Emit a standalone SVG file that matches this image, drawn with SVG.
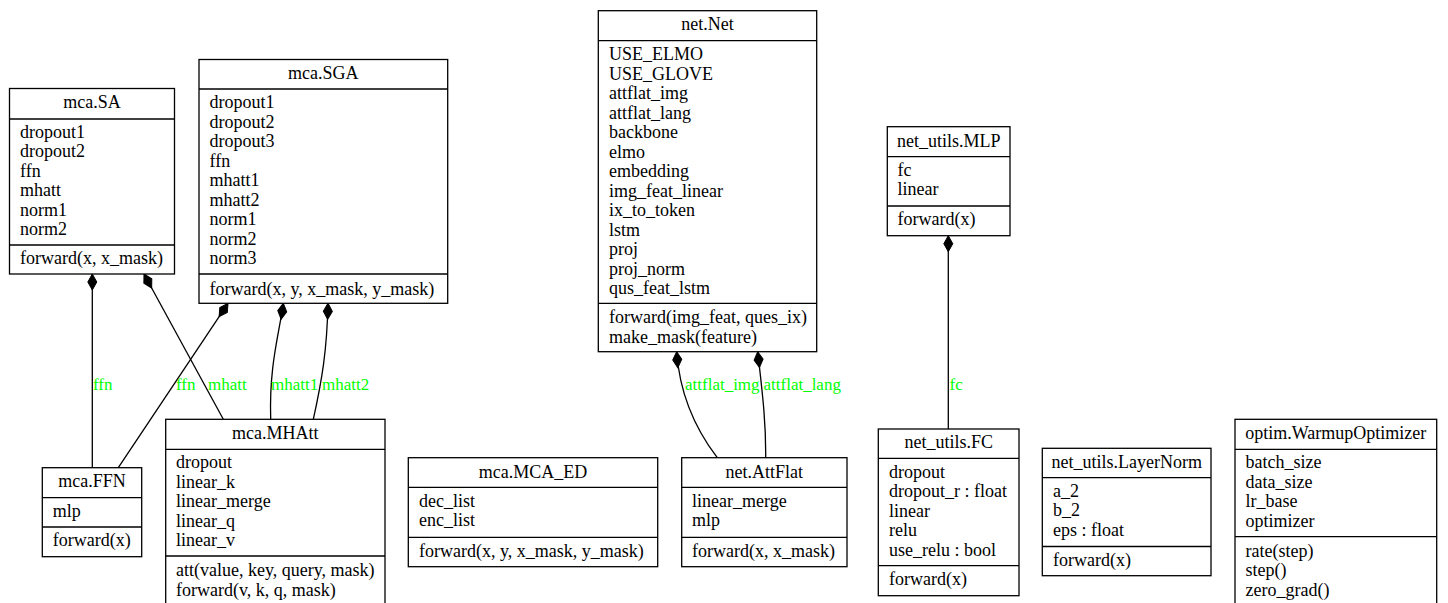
<svg xmlns="http://www.w3.org/2000/svg" width="1448" height="603" viewBox="0 0 1448 603">
  <style>
    .box { fill: #ffffff; stroke: #000000; stroke-width: 1.3; }
    .sep { stroke: #000000; stroke-width: 1.3; }
    text { font-family: "Liberation Serif", "Times New Roman", serif; font-size: 18px; fill: #000000; }
    .title { text-anchor: middle; }
    .edge { fill: none; stroke: #000000; stroke-width: 1.3; marker-start: url(#diamond); }
    .elabel { font-size: 17px; fill: #00ff00; }
  </style>
  <defs>
    <!-- filled composition diamond, placed at the owning class -->
    <marker id="diamond" markerUnits="userSpaceOnUse" markerWidth="20" markerHeight="12" refX="0" refY="6" orient="auto" overflow="visible">
      <path d="M0,6 L8,1.5 L16,6 L8,10.5 Z" fill="#000000" stroke="#000000" stroke-width="1"/>
    </marker>
  </defs>
  <rect width="1448" height="603" fill="#ffffff"/>

  <!-- composition connectors -->
  <g id="connectors">
    <path class="edge" d="M92.3,274 L92.3,467.7"/>
    <text class="elabel" x="93" y="390">ffn</text>
    <path class="edge" d="M144,274 L223.3,419.3"/>
    <text class="elabel" x="208" y="390">mhatt</text>
    <path class="edge" d="M228,303.3 L118.3,467.7"/>
    <text class="elabel" x="176" y="390">ffn</text>
    <path class="edge" d="M283.3,303.3 C279,335 269,365 270.7,419.3"/>
    <text class="elabel" x="271" y="390">mhatt1</text>
    <path class="edge" d="M328,303.3 C327,350 322,380 313.3,419.3"/>
    <text class="elabel" x="322" y="390">mhatt2</text>
    <path class="edge" d="M676.7,351.7 C680,400 700,435 717.3,457.7"/>
    <text class="elabel" x="685" y="390">attflat_img</text>
    <path class="edge" d="M757.7,351.7 C762,390 766,420 765.7,457.7"/>
    <text class="elabel" x="763.5" y="390">attflat_lang</text>
    <path class="edge" d="M948.3,235.7 L948.3,429"/>
    <text class="elabel" x="949.5" y="390">fc</text>
  </g>

  <g id="mca.SA">
    <rect class="box" x="9.5" y="88.5" width="165" height="185.5"/>
    <line class="sep" x1="9.5" y1="119" x2="174.5" y2="119"/>
    <line class="sep" x1="9.5" y1="245" x2="174.5" y2="245"/>
    <text class="title" x="92" y="108">mca.SA</text>
    <text x="20" y="137.7">dropout1</text>
    <text x="20" y="157.2">dropout2</text>
    <text x="20" y="176.7">ffn</text>
    <text x="20" y="196.2">mhatt</text>
    <text x="20" y="215.7">norm1</text>
    <text x="20" y="235.2">norm2</text>
    <text x="20" y="263.5">forward(x, x_mask)</text>
  </g>

  <g id="mca.SGA">
    <rect class="box" x="199" y="59.5" width="248.7" height="243.8"/>
    <line class="sep" x1="199" y1="89" x2="447.7" y2="89"/>
    <line class="sep" x1="199" y1="274" x2="447.7" y2="274"/>
    <text class="title" x="323.3" y="78.5">mca.SGA</text>
    <text x="209.5" y="108.3">dropout1</text>
    <text x="209.5" y="127.8">dropout2</text>
    <text x="209.5" y="147.3">dropout3</text>
    <text x="209.5" y="166.8">ffn</text>
    <text x="209.5" y="186.3">mhatt1</text>
    <text x="209.5" y="205.8">mhatt2</text>
    <text x="209.5" y="225.3">norm1</text>
    <text x="209.5" y="244.8">norm2</text>
    <text x="209.5" y="264.3">norm3</text>
    <text x="209.5" y="295">forward(x, y, x_mask, y_mask)</text>
  </g>

  <g id="mca.MHAtt">
    <rect class="box" x="165.7" y="419.3" width="219.3" height="195"/>
    <line class="sep" x1="165.7" y1="449.3" x2="385" y2="449.3"/>
    <line class="sep" x1="165.7" y1="556" x2="385" y2="556"/>
    <text class="title" x="275.3" y="439">mca.MHAtt</text>
    <text x="176" y="468.3">dropout</text>
    <text x="176" y="487.8">linear_k</text>
    <text x="176" y="507.3">linear_merge</text>
    <text x="176" y="526.8">linear_q</text>
    <text x="176" y="546.3">linear_v</text>
    <text x="176" y="576.3">att(value, key, query, mask)</text>
    <text x="176" y="595.8">forward(v, k, q, mask)</text>
  </g>

  <g id="mca.FFN">
    <rect class="box" x="42.3" y="467.7" width="99.4" height="89"/>
    <line class="sep" x1="42.3" y1="497.7" x2="141.7" y2="497.7"/>
    <line class="sep" x1="42.3" y1="527" x2="141.7" y2="527"/>
    <text class="title" x="92" y="487.3">mca.FFN</text>
    <text x="52.7" y="516.7">mlp</text>
    <text x="52.7" y="546.3">forward(x)</text>
  </g>

  <g id="mca.MCA_ED">
    <rect class="box" x="408.3" y="457.7" width="249.4" height="109"/>
    <line class="sep" x1="408.3" y1="487.3" x2="657.7" y2="487.3"/>
    <line class="sep" x1="408.3" y1="537.3" x2="657.7" y2="537.3"/>
    <text class="title" x="533" y="477.5">mca.MCA_ED</text>
    <text x="419" y="506.7">dec_list</text>
    <text x="419" y="526.2">enc_list</text>
    <text x="419" y="556.5">forward(x, y, x_mask, y_mask)</text>
  </g>

  <g id="net.AttFlat">
    <rect class="box" x="681.7" y="457.7" width="165.3" height="109"/>
    <line class="sep" x1="681.7" y1="487.3" x2="847" y2="487.3"/>
    <line class="sep" x1="681.7" y1="537.3" x2="847" y2="537.3"/>
    <text class="title" x="764.3" y="477.5">net.AttFlat</text>
    <text x="692" y="506.7">linear_merge</text>
    <text x="692" y="526.2">mlp</text>
    <text x="692" y="556.5">forward(x, x_mask)</text>
  </g>

  <g id="net.Net">
    <rect class="box" x="598.3" y="10.7" width="218.4" height="341"/>
    <line class="sep" x1="598.3" y1="40.7" x2="816.7" y2="40.7"/>
    <line class="sep" x1="598.3" y1="303.3" x2="816.7" y2="303.3"/>
    <text class="title" x="707.5" y="30">net.Net</text>
    <text x="609" y="60">USE_ELMO</text>
    <text x="609" y="79.5">USE_GLOVE</text>
    <text x="609" y="99">attflat_img</text>
    <text x="609" y="118.5">attflat_lang</text>
    <text x="609" y="138">backbone</text>
    <text x="609" y="157.5">elmo</text>
    <text x="609" y="177">embedding</text>
    <text x="609" y="196.5">img_feat_linear</text>
    <text x="609" y="216">ix_to_token</text>
    <text x="609" y="235.5">lstm</text>
    <text x="609" y="255">proj</text>
    <text x="609" y="274.5">proj_norm</text>
    <text x="609" y="294">qus_feat_lstm</text>
    <text x="609" y="323.3">forward(img_feat, ques_ix)</text>
    <text x="609" y="342.8">make_mask(feature)</text>
  </g>

  <g id="net_utils.MLP">
    <rect class="box" x="887.3" y="126.7" width="122.7" height="109"/>
    <line class="sep" x1="887.3" y1="156.7" x2="1010" y2="156.7"/>
    <line class="sep" x1="887.3" y1="206" x2="1010" y2="206"/>
    <text class="title" x="948.7" y="146.5">net_utils.MLP</text>
    <text x="897.5" y="175.7">fc</text>
    <text x="897.5" y="195.2">linear</text>
    <text x="897.5" y="225">forward(x)</text>
  </g>

  <g id="net_utils.FC">
    <rect class="box" x="878.3" y="429" width="140.7" height="166.7"/>
    <line class="sep" x1="878.3" y1="458.3" x2="1019" y2="458.3"/>
    <line class="sep" x1="878.3" y1="565.7" x2="1019" y2="565.7"/>
    <text class="title" x="948.7" y="448.3">net_utils.FC</text>
    <text x="889" y="477.7">dropout</text>
    <text x="889" y="497.2">dropout_r : float</text>
    <text x="889" y="516.7">linear</text>
    <text x="889" y="536.2">relu</text>
    <text x="889" y="555.7">use_relu : bool</text>
    <text x="889" y="585">forward(x)</text>
  </g>

  <g id="net_utils.LayerNorm">
    <rect class="box" x="1042.3" y="448.3" width="168.7" height="127.4"/>
    <line class="sep" x1="1042.3" y1="477.7" x2="1211" y2="477.7"/>
    <line class="sep" x1="1042.3" y1="546.5" x2="1211" y2="546.5"/>
    <text class="title" x="1126.7" y="467.5">net_utils.LayerNorm</text>
    <text x="1053" y="496.7">a_2</text>
    <text x="1053" y="516.2">b_2</text>
    <text x="1053" y="535.7">eps : float</text>
    <text x="1053" y="566">forward(x)</text>
  </g>

  <g id="optim.WarmupOptimizer">
    <rect class="box" x="1235" y="419.3" width="201.7" height="195"/>
    <line class="sep" x1="1235" y1="449.3" x2="1436.7" y2="449.3"/>
    <line class="sep" x1="1235" y1="536.7" x2="1436.7" y2="536.7"/>
    <text class="title" x="1335.8" y="439">optim.WarmupOptimizer</text>
    <text x="1245.5" y="468.3">batch_size</text>
    <text x="1245.5" y="487.8">data_size</text>
    <text x="1245.5" y="507.3">lr_base</text>
    <text x="1245.5" y="526.8">optimizer</text>
    <text x="1245.5" y="556.5">rate(step)</text>
    <text x="1245.5" y="576">step()</text>
    <text x="1245.5" y="595.5">zero_grad()</text>
  </g>
</svg>
